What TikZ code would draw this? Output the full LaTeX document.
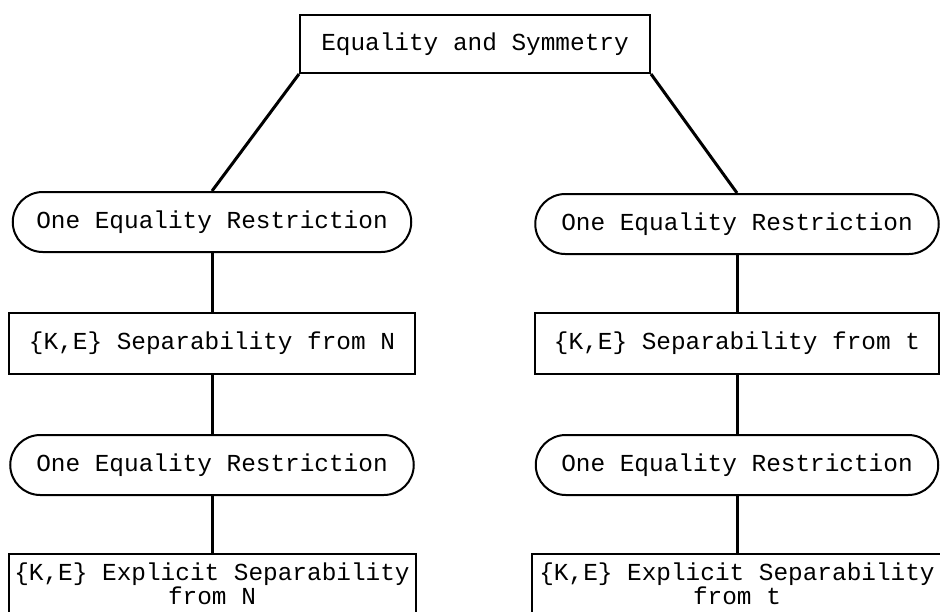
\documentclass[tikz,border=0pt]{standalone}
\usepackage{fontspec}
\usepackage{tikz}
\usetikzlibrary{shapes.misc}
\newfontfamily\boxfont{Liberation Mono}

\tikzset{
  sqbox/.style={draw, line width=2pt, rectangle, inner sep=0.75pt, align=center,
    font=\boxfont\fontsize{24.4}{24}\selectfont},
  rndbox/.style={draw, line width=2pt, rounded rectangle, inner sep=0.75pt, align=center,
    font=\boxfont\fontsize{24.4}{24}\selectfont},
  link/.style={line width=3pt}
}

\begin{document}
\begin{tikzpicture}[x=1pt,y=1pt,yscale=-1,xscale=1]
\useasboundingbox (0,0) rectangle (940,611);

% Text Node
\node [sqbox, minimum width=350, minimum height=58] (top) at (475,44) {Equality and Symmetry};
% Text Node
\node [rndbox, minimum width=400, minimum height=60] (oneL) at (212,222) {One Equality Restriction};
% Text Node
\node [rndbox, minimum width=405, minimum height=60] (oneR) at (737,224) {One Equality Restriction};
% Text Node
\node [sqbox, minimum width=406, minimum height=61] (sepL) at (212,343) {\{K,E\} Separability from N};
% Text Node
\node [sqbox, minimum width=404, minimum height=61] (sepR) at (737,343) {\{K,E\} Separability from t};
% Text Node
\node [rndbox, minimum width=405, minimum height=60] (twoL) at (212,465) {One Equality Restriction};
% Text Node
\node [rndbox, minimum width=404, minimum height=60] (twoR) at (737,465) {One Equality Restriction};
% Text Node
\node [sqbox, minimum width=407, minimum height=60] (expL) at (212,584) {\{K,E\} Explicit Separability\\from N};
% Text Node
\node [sqbox, minimum width=410, minimum height=60] (expR) at (737,584) {\{K,E\} Explicit Separability\\from t};

%Straight Lines
\draw [link] (top.south west) -- (oneL.north) ;
\draw [link] (top.south east) -- (oneR.north) ;
%Straight Lines
\draw [link] (oneL.south) -- (sepL.north) ;
\draw [link] (sepL.south) -- (twoL.north) ;
\draw [link] (twoL.south) -- (expL.north) ;
%Straight Lines
\draw [link] (oneR.south) -- (sepR.north) ;
\draw [link] (sepR.south) -- (twoR.north) ;
\draw [link] (twoR.south) -- (expR.north) ;

\end{tikzpicture}
\end{document}
